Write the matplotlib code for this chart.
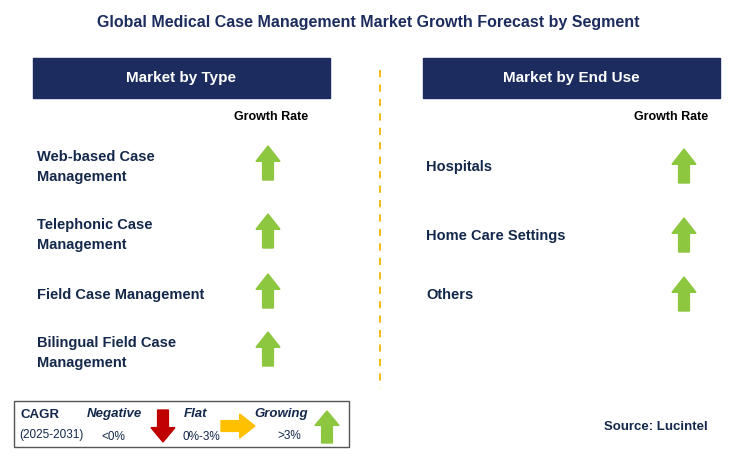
import matplotlib.pyplot as plt
from matplotlib.patches import Rectangle, Polygon

plt.rcParams["font.family"] = "Liberation Sans"

NAVY = "#1c2c5e"
TEXT = "#14284b"

title = "Global Medical Case Management Market Growth Forecast by Segment"
type_labels = ["Web-based Case\nManagement", "Telephonic Case\nManagement",
               "Field Case Management", "Bilingual Field Case\nManagement"]
type_growth = ["up", "up", "up", "up"]
use_labels = ["Hospitals", "Home Care Settings", "Others"]
use_growth = ["up", "up", "up"]

fig = plt.figure(figsize=(7.37, 4.66), dpi=100)
ax = fig.add_axes([0, 0, 1, 1])
ax.set_xlim(0, 737)
ax.set_ylim(466, 0)
ax.axis("off")


def arrow(x, y, kind, w=24, h=34):
    # y is the centre of the arrow
    sw = w * 0.45
    hh = h * 0.45
    if kind == "up":
        pts = [(x - sw/2, y + h/2), (x - sw/2, y - h/2 + hh), (x - w/2, y - h/2 + hh),
               (x, y - h/2), (x + w/2, y - h/2 + hh), (x + sw/2, y - h/2 + hh),
               (x + sw/2, y + h/2)]
        c = "#8dc63f"
    elif kind == "down":
        pts = [(x - sw/2, y - h/2), (x - sw/2, y + h/2 - hh), (x - w/2, y + h/2 - hh),
               (x, y + h/2), (x + w/2, y + h/2 - hh), (x + sw/2, y + h/2 - hh),
               (x + sw/2, y - h/2)]
        c = "#c00000"
    else:
        pts = [(x - h/2, y - sw/2), (x + h/2 - hh, y - sw/2), (x + h/2 - hh, y - w/2),
               (x + h/2, y), (x + h/2 - hh, y + w/2), (x + h/2 - hh, y + sw/2),
               (x - h/2, y + sw/2)]
        c = "#ffc000"
    ax.add_patch(Polygon(pts, closed=True, color=c))


ax.text(368, 22, title, ha="center", va="center", fontsize=11.5,
        fontweight="bold", color=NAVY)

for x0, head, gx in [(33, "Market by Type", 271), (423, "Market by End Use", 671)]:
    ax.add_patch(Rectangle((x0, 58), 297, 40, color=NAVY))
    ax.text(x0 + 148, 78, head, ha="center", va="center", fontsize=11,
            fontweight="bold", color="white")
    ax.text(gx, 117, "Growth Rate", ha="center", va="center",
            fontsize=9, fontweight="bold", color="black")

ax.plot([380, 380], [70, 388], ls=(0, (4, 4)), color="#f0b400", lw=1.3)

for lab, g, y in zip(type_labels, type_growth, [167, 235, 295, 353]):
    ax.text(37, y, lab, ha="left", va="center", fontsize=10.5,
            fontweight="bold", color=TEXT, linespacing=1.5)
    arrow(268, y - 4, g)

for lab, g, y in zip(use_labels, use_growth, [167, 236, 295]):
    ax.text(426, y, lab, ha="left", va="center", fontsize=10.5,
            fontweight="bold", color=TEXT)
    arrow(684, y - 1, g)

# legend box
ax.add_patch(Rectangle((14, 401), 335, 46, fill=False, ec="#555555", lw=1))
ax.text(21, 415, "CAGR", fontsize=9.5, fontweight="bold", color=TEXT, va="center")
ax.text(19, 435, "(2025-2031)", fontsize=8.5, color=TEXT, va="center")
ax.text(114, 414, "Negative", fontsize=9.5, fontweight="bold", style="italic",
        color=TEXT, va="center", ha="center")
ax.text(113, 437, "<0%", fontsize=8.5, color=TEXT, va="center", ha="center")
arrow(163, 426, "down", w=24, h=32)
ax.text(196, 414, "Flat", fontsize=9.5, fontweight="bold", style="italic",
        color=TEXT, va="center", ha="center")
ax.text(201, 437, "0%-3%", fontsize=8.5, color=TEXT, va="center", ha="center")
arrow(238, 426, "flat", w=24, h=34)
ax.text(281, 414, "Growing", fontsize=9.5, fontweight="bold", style="italic",
        color=TEXT, va="center", ha="center")
ax.text(289, 436, ">3%", fontsize=8.5, color=TEXT, va="center", ha="center")
arrow(327, 427, "up", w=24, h=32)

ax.text(708, 427, "Source: Lucintel", fontsize=9.5, fontweight="bold",
        color=TEXT, ha="right", va="center")

fig.savefig("out.png", dpi=100)
